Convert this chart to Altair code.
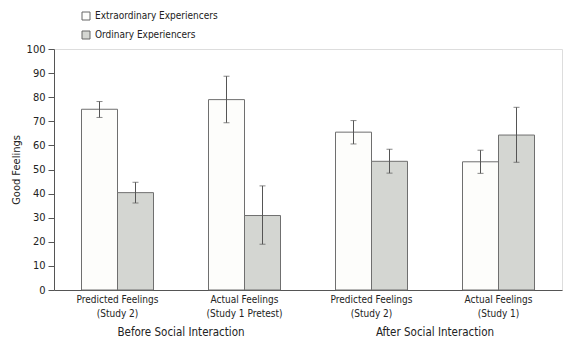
import altair as alt
import pandas as pd

# ---- data ----
cat_line1 = ["Predicted Feelings", "Actual Feelings", "Predicted Feelings", "Actual Feelings"]
cat_line2 = ["(Study 2)", "(Study 1 Pretest)", "(Study 2)", "(Study 1)"]
groups = ["Extraordinary Experiencers", "Ordinary Experiencers"]
extra_mean = [75.0, 79.0, 65.5, 53.2]
extra_lo = [71.6, 69.4, 60.6, 48.4]
extra_hi = [78.2, 88.7, 70.3, 58.0]
ord_mean = [40.4, 30.9, 53.4, 64.3]
ord_lo = [36.1, 19.0, 48.5, 53.0]
ord_hi = [44.7, 43.2, 58.4, 75.8]
phase_labels = ["Before Social Interaction", "After Social Interaction"]
phase_pos = [1, 3]
y_ticks = [0, 10, 20, 30, 40, 50, 60, 70, 80, 90, 100]

rows = []
for i in range(4):
    rows.append({"cat": i, "group": groups[0], "mean": extra_mean[i], "lo": extra_lo[i], "hi": extra_hi[i]})
    rows.append({"cat": i, "group": groups[1], "mean": ord_mean[i], "lo": ord_lo[i], "hi": ord_hi[i]})
df = pd.DataFrame(rows)
phase_df = pd.DataFrame({"cat": phase_pos, "label": phase_labels})

FONT = "DejaVu Sans Condensed, Liberation Sans, sans-serif"
W, H = 508, 241
step = W / 4

label_arr = "[" + ",".join("['%s','%s']" % (a, b) for a, b in zip(cat_line1, cat_line2)) + "]"

x_axis = alt.Axis(
    title=None, labelAngle=0, ticks=False, labelExpr=label_arr + "[datum.value]",
    labelFont=FONT, labelFontSize=10, labelLineHeight=14, labelPadding=4,
    labelColor="#222", domainColor="#555", labelBaseline="top",
)
x_scale = alt.Scale(paddingInner=55 / 127, paddingOuter=55 / 254)
y_axis = alt.Axis(
    title="Good Feelings", values=y_ticks, grid=False, tickSize=6,
    labelFont=FONT, labelFontSize=11, labelColor="#222", labelPadding=3,
    titleFont=FONT, titleFontSize=11, titleFontWeight="normal", titleColor="#222",
    titlePadding=5, domainColor="#555", tickColor="#555",
)
yscale = alt.Scale(domain=[0, 100], nice=False)
xoff = alt.XOffset("group:N", sort=groups, scale=alt.Scale(paddingInner=0, paddingOuter=0))


def xe(axis=None):
    return alt.X("cat:O", scale=x_scale, axis=axis)


def ye(field, axis=None):
    return alt.Y(field, scale=yscale, axis=axis)


bars = alt.Chart(df).mark_bar(stroke="#6f6f6f", strokeWidth=1).encode(
    x=xe(x_axis),
    xOffset=xoff,
    y=ye("mean:Q", y_axis),
    fill=alt.Fill(
        "group:N", sort=groups,
        scale=alt.Scale(domain=groups, range=["#fdfdfb", "#d4d6d2"]),
        legend=alt.Legend(
            title=None, orient="none", legendX=27, legendY=-38, direction="vertical",
            symbolType="square", symbolSize=64, symbolStrokeColor="#666", symbolStrokeWidth=1,
            labelFont=FONT, labelFontSize=10, labelColor="#222", rowPadding=7, labelOffset=4,
        ),
    ),
)

rules = alt.Chart(df).mark_rule(color="#555", strokeWidth=1).encode(
    x=xe(), xOffset=xoff, y=ye("lo:Q"), y2="hi:Q"
)
caps_lo = alt.Chart(df).mark_tick(color="#555", thickness=1, size=6).encode(
    x=xe(), xOffset=xoff, y=ye("lo:Q")
)
caps_hi = alt.Chart(df).mark_tick(color="#555", thickness=1, size=6).encode(
    x=xe(), xOffset=xoff, y=ye("hi:Q")
)

phase = alt.Chart(phase_df).mark_text(
    font=FONT, fontSize=11.5, color="#222", dx=-step / 2, baseline="middle"
).encode(x=xe(), y=alt.value(H + 43), text="label:N")

chart = alt.layer(bars, rules, caps_lo, caps_hi, phase).resolve_axis(
    x="independent", y="independent"
).properties(
    width=W, height=H,
    autosize=alt.AutoSizeParams(type="none"),
    padding={"left": 54, "top": 49, "right": 8, "bottom": 56},
).configure_view(stroke=None).configure(background="white")

chart.save("out.html", embed_options={"renderer": "svg", "actions": False})
